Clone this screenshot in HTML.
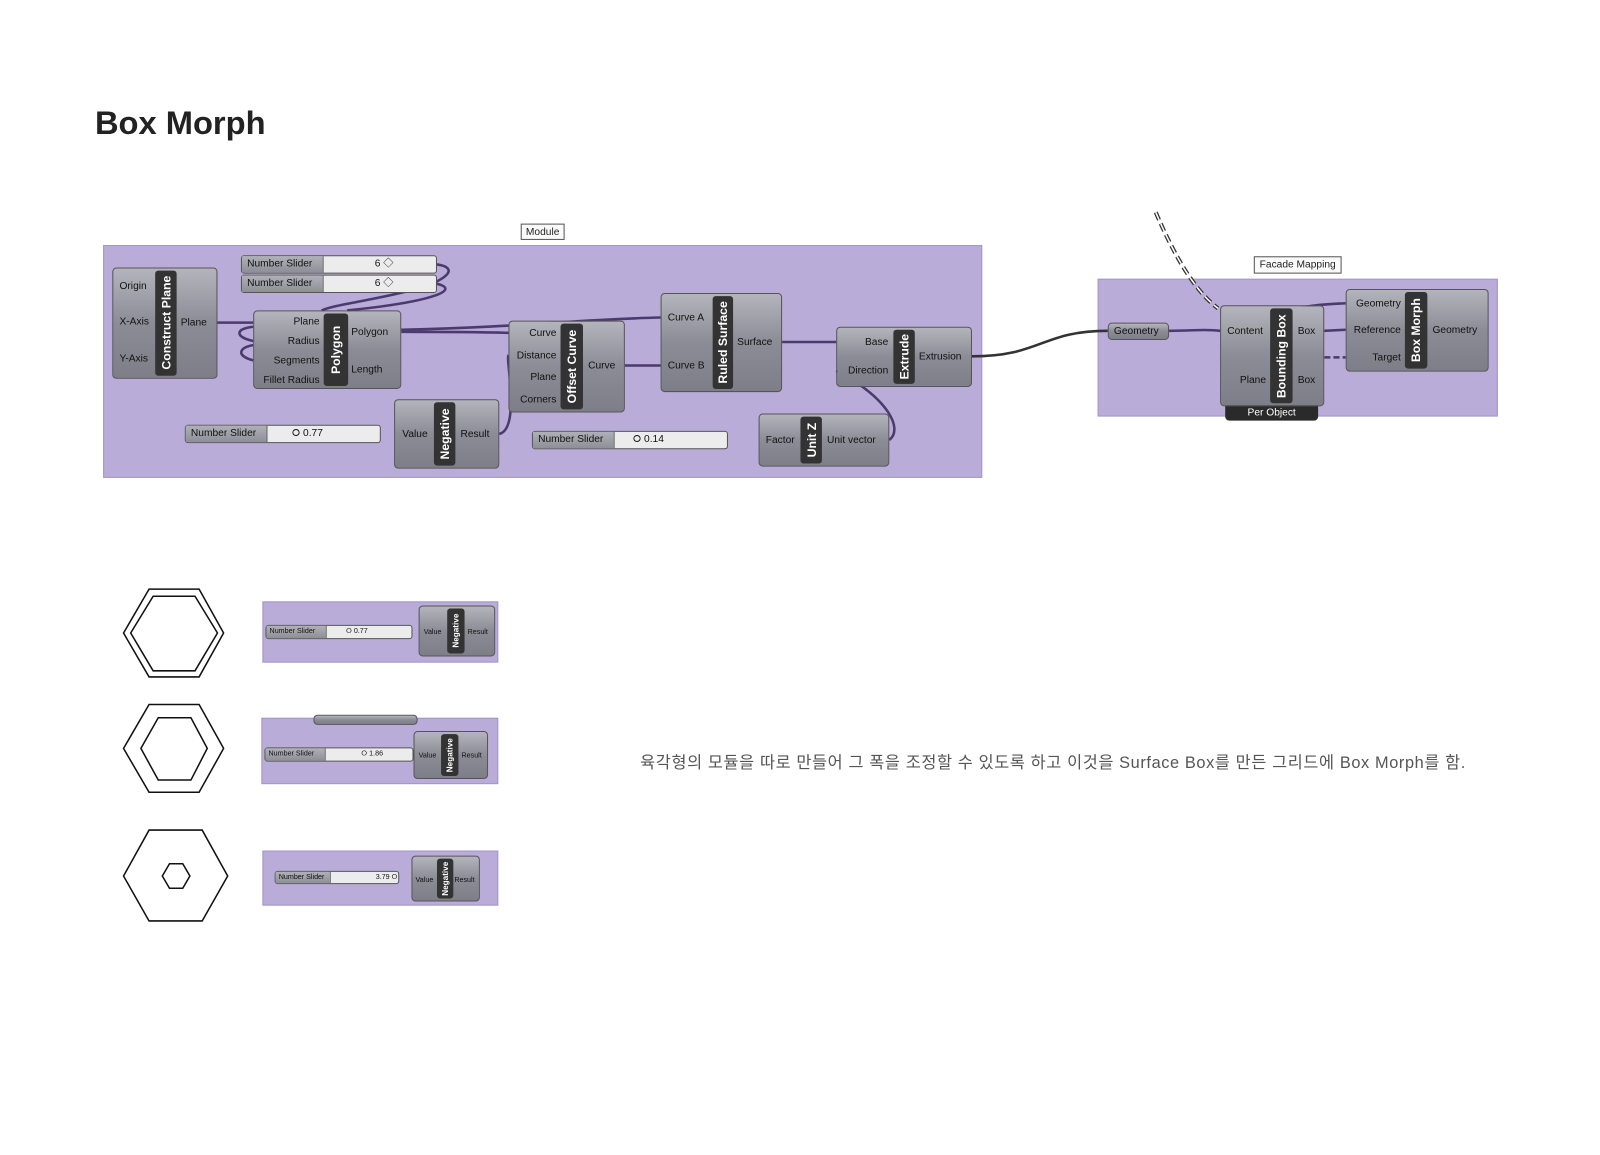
<!DOCTYPE html>
<html><head><meta charset="utf-8">
<style>
body{margin:0;width:1600px;height:1131px;background:#fff;position:relative;overflow:hidden;font-family:"Liberation Sans","Noto Sans CJK KR",sans-serif}
#w{position:absolute;left:0;top:0;width:1600px;height:1131px;transform:scale(1.021);transform-origin:0 0}
.a{position:absolute}
.grp{position:absolute;background:#b9acd8;border:1px solid #a496c6;box-sizing:border-box}
.tag{position:absolute;background:#fafafa;border:1px solid #555;font-size:10px;color:#222;text-align:center;line-height:15px;box-sizing:border-box}
.c{position:absolute;background:linear-gradient(#b4b4bc,#8c8c96 50%,#7e7e88);border:1px solid #555;border-radius:4px;box-sizing:border-box}
.bar{position:absolute;top:2px;bottom:2px;background:#333;border-radius:3px;display:flex;align-items:center;justify-content:center}
.bar span{writing-mode:vertical-rl;transform:rotate(180deg);color:#fff;font-weight:bold;font-size:12px;white-space:nowrap}
.l{position:absolute;font-size:10px;color:#111;white-space:nowrap;line-height:12px}
.r{text-align:right}
.sl{position:absolute;border:1px solid #555;border-radius:3px;background:#ececec;box-sizing:border-box;font-size:10px;line-height:16px}
.sl b{font-weight:normal;position:absolute;left:0;top:0;bottom:0;background:linear-gradient(#b0b0b8,#8e8e98);padding-left:5px;color:#111;border-right:1px solid #666}
.sl i{font-style:normal;position:absolute;top:0;color:#111}
</style></head><body><div id="w">
<div class="a" style="left:93px;top:102px;font-size:32px;font-weight:bold;color:#222">Box Morph</div>

<svg class="a" style="left:0;top:0" width="1600" height="1131">
<g fill="none" stroke="#4b3a6e" stroke-width="2.5">
<path d="M213 316 C230 316,230 316,248 316"/>
<path d="M428 259 C450 262,440 275,400 285 C360 295,330 298,315 304"/>
<path d="M428 278 C450 283,430 295,340 304"/>
<path d="M248 334 C230 330,230 322,248 320"/>
<path d="M248 353 C230 348,235 340,248 338"/>
<path d="M393 325 C440 325,460 325,498 326"/>
<path d="M393 323 C520 320,560 313,647 311"/>
<path d="M612 358 L647 358"/>
<path d="M489 425 C510 420,495 350,498 348"/>
<path d="M766 335 L819 335"/>
<path d="M871 431 C885 420,870 390,819 363"/>
<path d="M1145 324 C1170 324,1180 322,1195 324"/>
<path d="M1297 324 L1318 323"/>
<path d="M1265 303 C1290 298,1300 298,1318 297"/>
<path d="M1297 350 L1318 350" stroke-dasharray="6 3"/>
</g>
<path d="M952 349 C1020 349,1020 324,1085 324" fill="none" stroke="#333" stroke-width="2.5"/>
<path d="M1132 208 C1150 250,1170 285,1193 302" fill="none" stroke="#333" stroke-width="4" stroke-dasharray="8 4"/>
<path d="M1132 208 C1150 250,1170 285,1193 302" fill="none" stroke="#fff" stroke-width="1.5" stroke-dasharray="8 4"/>
</svg>

<div class="grp" style="left:101px;top:240px;width:861px;height:228px;z-index:-1"></div>
<div class="tag" style="left:510px;top:219px;width:43px;height:16px">Module</div>
<div class="grp" style="left:1075px;top:273px;width:392px;height:135px;z-index:-1"></div>
<div class="tag" style="left:1228px;top:251px;width:86px;height:17px">Facade Mapping</div>

<div class="c" style="left:110px;top:262px;width:103px;height:109px"><div class="bar" style="left:41px;width:21px"><span>Construct Plane</span></div>
<div class="l" style="left:6px;top:12px">Origin</div><div class="l" style="left:6px;top:47px">X-Axis</div><div class="l" style="left:6px;top:83px">Y-Axis</div><div class="l" style="left:66px;top:48px">Plane</div></div>

<div class="sl" style="left:236px;top:250px;width:192px;height:18px"><b style="width:74px">Number Slider</b><i style="left:130px">6 ◇</i></div>
<div class="sl" style="left:236px;top:269px;width:192px;height:18px"><b style="width:74px">Number Slider</b><i style="left:130px">6 ◇</i></div>

<div class="c" style="left:248px;top:304px;width:145px;height:77px"><div class="bar" style="left:68px;width:24px"><span>Polygon</span></div>
<div class="l r" style="left:0;width:64px;top:5px">Plane</div><div class="l r" style="left:0;width:64px;top:24px">Radius</div><div class="l r" style="left:0;width:64px;top:43px">Segments</div><div class="l r" style="left:0;width:64px;top:62px">Fillet Radius</div>
<div class="l" style="left:95px;top:15px">Polygon</div><div class="l" style="left:95px;top:52px">Length</div></div>

<div class="sl" style="left:181px;top:416px;width:192px;height:18px"><b style="width:74px">Number Slider</b><i style="left:104px">⭘ 0.77</i></div>
<div class="c" style="left:386px;top:391px;width:103px;height:68px"><div class="bar" style="left:38px;width:21px"><span>Negative</span></div>
<div class="l" style="left:7px;top:28px">Value</div><div class="l" style="left:64px;top:28px">Result</div></div>

<div class="c" style="left:498px;top:314px;width:114px;height:90px"><div class="bar" style="left:50px;width:22px"><span>Offset Curve</span></div>
<div class="l r" style="left:0;width:46px;top:6px">Curve</div><div class="l r" style="left:0;width:46px;top:28px">Distance</div><div class="l r" style="left:0;width:46px;top:49px">Plane</div><div class="l r" style="left:0;width:46px;top:71px">Corners</div>
<div class="l" style="left:77px;top:38px">Curve</div></div>

<div class="c" style="left:647px;top:287px;width:119px;height:97px"><div class="bar" style="left:50px;width:20px"><span>Ruled Surface</span></div>
<div class="l" style="left:6px;top:18px">Curve A</div><div class="l" style="left:6px;top:65px">Curve B</div><div class="l" style="left:74px;top:42px">Surface</div></div>

<div class="c" style="left:819px;top:320px;width:133px;height:59px"><div class="bar" style="left:55px;width:21px"><span>Extrude</span></div>
<div class="l r" style="left:0;width:50px;top:9px">Base</div><div class="l r" style="left:0;width:50px;top:37px">Direction</div><div class="l" style="left:80px;top:23px">Extrusion</div></div>

<div class="sl" style="left:521px;top:422px;width:192px;height:18px"><b style="width:74px">Number Slider</b><i style="left:98px">⭘ 0.14</i></div>
<div class="c" style="left:743px;top:405px;width:128px;height:52px"><div class="bar" style="left:40px;width:21px"><span>Unit Z</span></div>
<div class="l" style="left:6px;top:20px">Factor</div><div class="l" style="left:66px;top:20px">Unit vector</div></div>

<div class="c" style="left:1085px;top:316px;width:60px;height:17px;border-radius:4px"><div class="l" style="left:5px;top:2px">Geometry</div></div>
<div class="a" style="left:1200px;top:396px;width:91px;height:16px;background:#2a2a2a;border-radius:0 0 4px 4px;color:#fff;font-size:10px;text-align:center;line-height:17px">Per Object</div>
<div class="c" style="left:1195px;top:299px;width:102px;height:99px"><div class="bar" style="left:48px;width:22px"><span>Bounding Box</span></div>
<div class="l" style="left:6px;top:19px">Content</div><div class="l r" style="left:0;width:44px;top:67px">Plane</div><div class="l" style="left:75px;top:19px">Box</div><div class="l" style="left:75px;top:67px">Box</div></div>
<div class="c" style="left:1318px;top:283px;width:140px;height:81px"><div class="bar" style="left:57px;width:22px"><span>Box Morph</span></div>
<div class="l r" style="left:0;width:53px;top:8px">Geometry</div><div class="l r" style="left:0;width:53px;top:34px">Reference</div><div class="l r" style="left:0;width:53px;top:61px">Target</div><div class="l" style="left:84px;top:34px">Geometry</div></div>

<svg class="a" style="left:0;top:0" width="600" height="1131" fill="none" stroke="#111" stroke-width="1.5">
<polygon points="121,620 146,577 195,577 219,620 195,663 146,663"/>
<polygon points="128,620 150,584 191,584 213,620 191,657 150,657"/>
<polygon points="121,733 146,690 195,690 219,733 195,776 146,776"/>
<polygon points="138,733 155,703 187,703 203,733 187,764 155,764"/>
<polygon points="121,858 146,813 198,813 223,858 198,902 146,902"/>
<polygon points="159,858 166,846 179,846 186,858 179,870 166,870"/>
</svg>

<div class="grp" style="left:257px;top:589px;width:231px;height:60px">
<div class="sl" style="left:2px;top:22px;width:144px;height:14px;font-size:7px;line-height:12px"><b style="width:55px;padding-left:3px">Number Slider</b><i style="left:78px">⭘ 0.77</i></div>
<div class="c" style="left:152px;top:3px;width:75px;height:50px"><div class="bar" style="left:27px;width:17px"><span style="font-size:8px">Negative</span></div><div class="l" style="left:4px;top:20px;font-size:7px">Value</div><div class="l" style="left:47px;top:20px;font-size:7px">Result</div></div></div>
<div class="grp" style="left:256px;top:703px;width:232px;height:65px">
<div class="c" style="left:50px;top:-4px;width:102px;height:10px"></div>
<div class="sl" style="left:2px;top:28px;width:146px;height:14px;font-size:7px;line-height:12px"><b style="width:55px;padding-left:3px">Number Slider</b><i style="left:94px">⭘ 1.86</i></div>
<div class="c" style="left:148px;top:12px;width:73px;height:47px"><div class="bar" style="left:26px;width:17px"><span style="font-size:8px">Negative</span></div><div class="l" style="left:4px;top:18px;font-size:7px">Value</div><div class="l" style="left:46px;top:18px;font-size:7px">Result</div></div></div>
<div class="grp" style="left:257px;top:833px;width:231px;height:54px">
<div class="sl" style="left:11px;top:19px;width:122px;height:13px;font-size:7px;line-height:11px"><b style="width:50px;padding-left:3px">Number Slider</b><i style="left:98px">3.79 ⭘</i></div>
<div class="c" style="left:145px;top:4px;width:67px;height:45px"><div class="bar" style="left:24px;width:16px"><span style="font-size:8px">Negative</span></div><div class="l" style="left:3px;top:18px;font-size:7px">Value</div><div class="l" style="left:41px;top:18px;font-size:7px">Result</div></div></div>

<div class="a" style="left:627px;top:733px;font-size:16px;color:#555;white-space:nowrap;letter-spacing:0.6px">육각형의 모듈을 따로 만들어 그 폭을 조정할 수 있도록 하고 이것을 Surface Box를 만든 그리드에 Box Morph를 함.</div>
</div></body></html>
